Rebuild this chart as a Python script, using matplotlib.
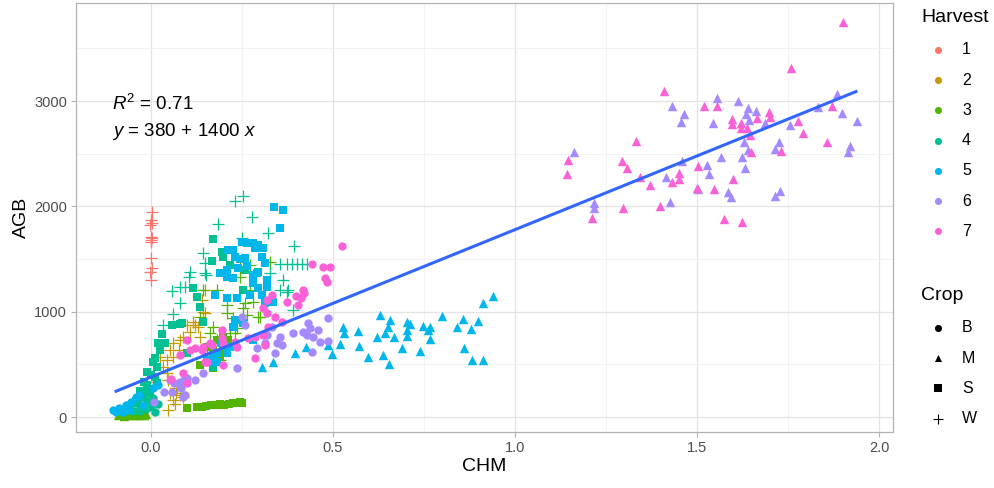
import numpy as np
import matplotlib
matplotlib.use("Agg")
import matplotlib.pyplot as plt

plt.rcParams['font.family'] = ['Liberation Sans', 'DejaVu Sans']
plt.rcParams['mathtext.fontset'] = 'custom'
plt.rcParams['mathtext.rm'] = 'Liberation Sans'
plt.rcParams['mathtext.it'] = 'Liberation Sans:italic'

# colours of the Harvest scale (ggplot hue palette)
harvest_labels = ['1', '2', '3', '4', '5', '6', '7']
harvest_colors = ['#F8766D', '#C49A00', '#53B400', '#00C094', '#00B6EB', '#A58AFF', '#FB61D7']
crop_labels = ['B', 'M', 'S', 'W']
crop_markers = {'B': 'o', 'M': '^', 'S': 's', 'W': '+'}

# linear fit shown on the chart
fit_intercept = 380
fit_slope = 1400
fit_r2 = 0.71
fit_xrange = [-0.10, 1.94]

# points: (CHM, AGB)
h1_W = [(0.002, 1947), (0.0, 1872), (0.003, 1843), (-0.002, 1824), (0.0, 1710), (0.002, 1700),
        (-0.001, 1681), (0.001, 1662), (0.0, 1510), (0.002, 1415), (-0.002, 1377), (0.0, 1302),
        (0.005, 330), (-0.005, 210)]

h2_W = [(0.148, 1207), (0.140, 1112), (0.143, 998), (0.121, 874), (0.099, 874), (0.107, 808),
        (0.129, 855), (0.088, 760), (0.135, 760), (0.025, 570), (0.044, 542), (0.052, 637),
        (0.060, 703), (0.080, 732), (0.115, 903), (0.148, 988), (0.052, 228), (0.071, 276),
        (0.080, 209), (0.060, 162), (0.044, 418), (0.033, 475), (0.047, 352), (0.060, 570),
        (0.077, 637), (0.069, 228), (0.047, 67), (0.088, 190), (0.09, 300), (0.065, 120)]

h3_W = [(0.280, 1634), (0.272, 1444), (0.327, 1473), (0.245, 1330), (0.272, 1207), (0.258, 1083),
        (0.143, 1207), (0.181, 1207), (0.209, 1064), (0.245, 1425), (0.253, 1036), (0.209, 988),
        (0.225, 941), (0.170, 855), (0.162, 798), (0.280, 1093), (0.264, 969), (0.294, 950),
        (0.217, 798), (0.181, 732), (0.236, 846), (0.231, 798), (0.154, 608), (0.170, 570),
        (0.190, 542), (0.299, 950), (0.135, 950)]
h3_S = [(0.170, 637), (0.190, 570), (0.198, 637), (0.170, 466), (0.135, 494), (0.154, 665),
        (0.181, 732), (0.198, 760), (0.212, 732), (0.190, 608),
        (0.099, 86), (0.125, 95), (0.140, 100), (0.150, 105), (0.165, 110), (0.180, 115),
        (0.190, 120), (0.200, 115), (0.215, 125), (0.225, 130), (0.235, 135), (0.245, 140),
        (0.250, 135)]
h3_M = [(-0.09, 15), (-0.08, 25), (-0.07, 20), (-0.06, 30), (-0.05, 20), (-0.04, 25),
        (-0.03, 20), (-0.02, 15), (-0.075, 10), (-0.045, 15), (-0.035, 30), (-0.015, 25)]

h4_S = [(0.170, 1691), (0.195, 1567), (0.168, 1482), (0.198, 1520), (0.217, 1444), (0.253, 1207),
        (0.258, 1397), (0.294, 1378), (0.115, 1226), (0.126, 1140), (0.135, 1045), (0.143, 903),
        (0.080, 884), (0.058, 874), (0.030, 789), (0.038, 703), (0.025, 637), (0.011, 561),
        (0.016, 475), (-0.011, 428), (-0.003, 228), (-0.022, 190), (0.016, 323), (0.099, 608),
        (0.170, 475), (0.085, 893), (0.020, 700), (0.005, 520), (-0.04, 150), (-0.03, 250),
        (-0.01, 300), (0.0, 400), (0.01, 380), (-0.02, 330)]
h4_W = [(0.231, 2052), (0.253, 2100), (0.277, 1900), (0.184, 1834), (0.321, 1748), (0.393, 1625),
        (0.143, 1558), (0.250, 1701), (0.354, 1454), (0.374, 1454), (0.387, 1454), (0.401, 1454),
        (0.415, 1454), (0.429, 1454), (0.363, 1302), (0.354, 1207), (0.376, 1207), (0.327, 1368),
        (0.148, 1368), (0.374, 1188), (0.390, 1017), (0.148, 1463), (0.107, 1378), (0.104, 1330),
        (0.080, 1235), (0.093, 1235), (0.058, 1197), (0.080, 1083), (0.060, 979), (0.033, 874),
        (0.151, 1349)]
h4_B = [(-0.06, 100), (-0.045, 130), (-0.035, 170), (-0.02, 200), (-0.01, 150), (0.0, 100),
        (-0.03, 60), (-0.015, 80), (0.005, 180), (-0.05, 60), (0.01, 50), (0.02, 120)]
h4_M = [(-0.014, 275), (-0.03, 120)]

h5_B = [(-0.104, 67), (-0.088, 86), (-0.069, 114), (-0.055, 143), (-0.041, 190), (-0.033, 209),
        (-0.096, 48), (-0.077, 48), (-0.060, 67), (-0.022, 114), (0.005, 276), (0.019, 304)]
h5_S = [(0.338, 1995), (0.363, 1967), (0.354, 1796), (0.250, 1663), (0.264, 1653), (0.280, 1653),
        (0.294, 1634), (0.308, 1606), (0.286, 1606), (0.225, 1587), (0.212, 1587), (0.231, 1520),
        (0.245, 1501), (0.258, 1511), (0.305, 1520), (0.313, 1463), (0.264, 1435), (0.239, 1416),
        (0.209, 1397), (0.190, 1368), (0.225, 1321), (0.209, 1330), (0.280, 1349), (0.291, 1368),
        (0.280, 1273), (0.294, 1226), (0.319, 1235), (0.305, 1159), (0.176, 1159), (0.272, 1159),
        (0.236, 1131), (0.335, 1093), (0.313, 1083), (0.209, 1131), (0.231, 922), (0.253, 893),
        (0.225, 855), (0.280, 732), (0.181, 608), (0.209, 608), (0.181, 523), (0.154, 542),
        (0.319, 1302), (0.170, 570), (0.217, 665), (0.195, 703), (0.162, 523)]
h5_M = [(0.629, 969), (0.657, 922), (0.651, 855), (0.643, 798), (0.621, 760), (0.668, 760),
        (0.703, 903), (0.712, 884), (0.703, 827), (0.703, 770), (0.690, 656), (0.637, 589),
        (0.596, 570), (0.654, 504), (0.569, 817), (0.571, 675), (0.527, 855), (0.530, 798),
        (0.519, 694), (0.497, 599), (0.486, 684), (0.426, 665), (0.747, 865), (0.766, 855),
        (0.761, 827), (0.766, 741), (0.739, 627), (0.799, 960), (0.841, 855), (0.857, 931),
        (0.879, 836), (0.898, 912), (0.860, 656), (0.882, 542), (0.912, 542), (0.912, 1083),
        (0.940, 1150), (0.305, 475), (0.335, 523), (0.396, 608)]

h6_B = [(0.486, 940), (0.431, 893), (0.437, 846), (0.459, 827), (0.418, 808), (0.429, 779),
        (0.445, 760), (0.390, 798), (0.464, 713), (0.486, 722), (0.442, 618), (0.354, 760),
        (0.346, 703), (0.360, 684), (0.341, 608), (0.313, 703), (0.291, 656), (0.236, 466),
        (0.258, 874), (0.250, 950), (0.319, 779), (0.332, 855), (0.099, 370), (0.121, 352),
        (0.080, 333), (0.052, 352), (0.058, 238), (0.088, 190), (0.143, 418), (0.093, 209),
        (0.008, 143), (0.036, 238), (0.063, 323), (0.082, 276), (0.091, 352)]
h6_M = [(1.431, 2954), (1.464, 2878), (1.456, 2802), (1.544, 2793), (1.555, 3030), (1.162, 2517),
        (1.459, 2432), (1.415, 2280), (1.527, 2394), (1.533, 2308), (1.503, 2166), (1.426, 2042),
        (1.217, 2033), (1.217, 1985), (1.613, 3002), (1.640, 2935), (1.662, 2907), (1.635, 2878),
        (1.643, 2821), (1.687, 2793), (1.755, 2774), (1.832, 2945), (1.885, 3068), (1.898, 2888),
        (1.940, 2812), (1.725, 2612), (1.714, 2546), (1.629, 2612), (1.640, 2536), (1.624, 2470),
        (1.566, 2470), (1.632, 2365), (1.593, 2090), (1.585, 2137), (1.714, 2099), (1.728, 2147),
        (1.920, 2574), (1.915, 2517)]

h7_B = [(0.525, 1625), (0.442, 1454), (0.473, 1425), (0.492, 1425), (0.478, 1321), (0.484, 1283),
        (0.418, 1207), (0.420, 1178), (0.398, 1150), (0.412, 1131), (0.374, 1093), (0.404, 1064),
        (0.319, 1112), (0.332, 1159), (0.308, 1036), (0.319, 988), (0.341, 950), (0.360, 903),
        (0.321, 855), (0.308, 779), (0.286, 760), (0.313, 684), (0.266, 751), (0.236, 665),
        (0.231, 713), (0.195, 751), (0.198, 703), (0.168, 684), (0.143, 665), (0.286, 561),
        (0.198, 494), (0.148, 523), (0.195, 827), (0.162, 703), (0.140, 637), (0.121, 656),
        (0.107, 637), (0.154, 523), (0.099, 732), (0.080, 589), (0.088, 418), (0.099, 323),
        (0.055, 361)]
h7_M = [(1.409, 3097), (1.519, 2954), (1.555, 2954), (1.332, 2622), (1.146, 2441), (1.143, 2308),
        (1.294, 2432), (1.308, 2365), (1.343, 2280), (1.371, 2204), (1.431, 2232), (1.451, 2318),
        (1.451, 2261), (1.503, 2384), (1.500, 2175), (1.547, 2166), (1.297, 1985), (1.398, 2004),
        (1.212, 1890), (1.758, 3315), (1.596, 2831), (1.596, 2783), (1.621, 2793), (1.621, 2745),
        (1.637, 2745), (1.646, 2679), (1.665, 2840), (1.698, 2897), (1.701, 2850), (1.777, 2812),
        (1.791, 2698), (1.871, 2954), (1.857, 2612), (1.731, 2527), (1.648, 2517), (1.599, 2261),
        (1.574, 1881), (1.624, 1852), (1.901, 3752)]

groups = [
    ('1', 'W', h1_W), ('2', 'W', h2_W),
    ('3', 'W', h3_W), ('3', 'S', h3_S), ('3', 'M', h3_M),
    ('4', 'B', h4_B), ('4', 'M', h4_M), ('4', 'S', h4_S), ('4', 'W', h4_W),
    ('5', 'B', h5_B), ('5', 'S', h5_S), ('5', 'M', h5_M),
    ('6', 'B', h6_B), ('6', 'M', h6_M),
    ('7', 'B', h7_B), ('7', 'M', h7_M),
]

W, H = 995, 488
fig = plt.figure(figsize=(W / 100, H / 100), dpi=100)
ax = fig.add_axes([76 / W, (H - 432) / H, (893 - 76) / W, (432 - 3) / H])

sizes = {'B': 36, 'M': 46, 'S': 30, 'W': 72}
for harvest, crop, pts in groups:
    pts = np.array(pts)
    col = harvest_colors[harvest_labels.index(harvest)]
    if crop == 'W':
        ax.scatter(pts[:, 0], pts[:, 1], s=sizes[crop], marker='+', c=col, linewidths=0.9, zorder=3)
    else:
        ax.scatter(pts[:, 0], pts[:, 1], s=sizes[crop], marker=crop_markers[crop], c=col,
                   linewidths=0, zorder=3)

xs = np.array(fit_xrange)
ax.plot(xs, fit_intercept + fit_slope * xs, color='#3366FF', lw=2.2, zorder=4,
        solid_capstyle='butt')

ax.text(0.044, 0.765, r'$R^2$ = %.2f' % fit_r2, transform=ax.transAxes, fontsize=13.5,
        va='center', ha='left')
ax.text(0.044, 0.700, r'$y$ = %d$\,+\,$%d $x$' % (fit_intercept, fit_slope),
        transform=ax.transAxes, fontsize=13.5, va='center', ha='left')

ax.set_xlim(-0.206, 2.038)
ax.set_ylim(-142, 3932)
ax.set_xticks([0.0, 0.5, 1.0, 1.5, 2.0])
ax.set_xticklabels(['0.0', '0.5', '1.0', '1.5', '2.0'])
ax.set_yticks([0, 1000, 2000, 3000])
ax.set_xticks([0.25, 0.75, 1.25, 1.75], minor=True)
ax.set_yticks([500, 1500, 2500, 3500], minor=True)
ax.grid(True, which='major', color='#E3E3E3', lw=0.9, zorder=0)
ax.grid(True, which='minor', color='#F1F1F1', lw=0.6, zorder=0)
ax.set_axisbelow(True)
for sp in ax.spines.values():
    sp.set_color('#B3B3B3')
    sp.set_linewidth(0.9)
ax.tick_params(which='major', colors='#B3B3B3', labelcolor='#4D4D4D', labelsize=10.5,
               length=3.5, width=0.8, pad=3)
ax.tick_params(which='minor', length=0)
ax.set_xlabel('CHM', fontsize=14, labelpad=2)
ax.set_ylabel('AGB', fontsize=14, labelpad=3)

# legends drawn in pixel coordinates on an overlay
lax = fig.add_axes([0, 0, 1, 1], facecolor='none')
lax.set_xlim(0, W)
lax.set_ylim(H, 0)
lax.axis('off')
lax.text(921, 17, 'Harvest', fontsize=14, va='center', ha='left')
for i, (lab, col) in enumerate(zip(harvest_labels, harvest_colors)):
    yy = 50 + i * 30.2
    lax.scatter([938], [yy], s=26, c=col, marker='o', linewidths=0)
    lax.text(962, yy, lab, fontsize=11.5, va='center', ha='left')
lax.text(921, 295, 'Crop', fontsize=14, va='center', ha='left')
for i, lab in enumerate(crop_labels):
    yy = 328 + i * 30.2
    m = crop_markers[lab]
    if m == '+':
        lax.scatter([938], [yy], s=60, c='black', marker=m, linewidths=0.8)
    else:
        lax.scatter([938], [yy], s=26, c='black', marker=m, linewidths=0)
    lax.text(962, yy, lab, fontsize=11.5, va='center', ha='left')

fig.savefig('out.png', dpi=100)
